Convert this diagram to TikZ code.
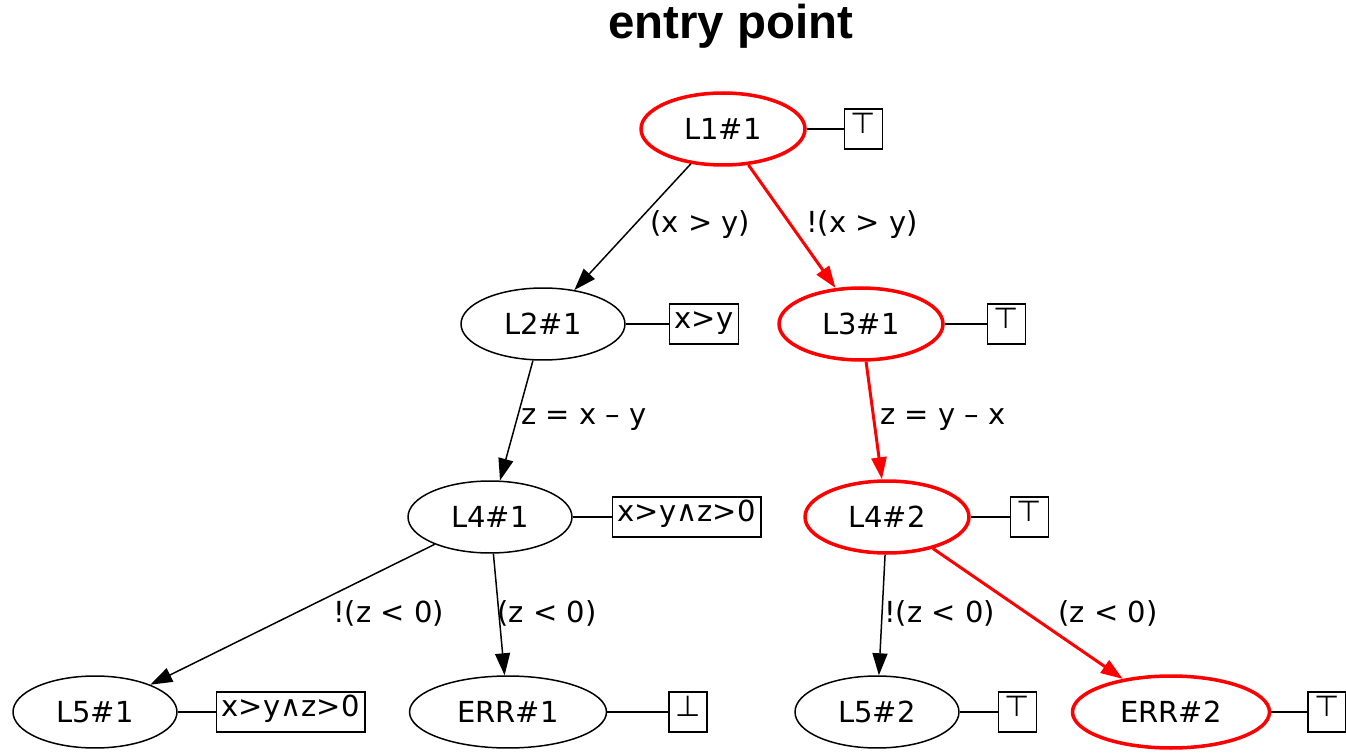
\documentclass[tikz,border=0pt]{standalone}
\usepackage{fontspec}
\setmainfont{DejaVu Sans}
\newfontfamily\headfont{Liberation Sans}
\usetikzlibrary{shapes.geometric,arrows.meta,positioning}

\tikzset{
  loc/.style={ellipse, draw, line width=0.85pt, minimum width=3.28cm, minimum height=1.44cm, inner sep=0pt},
  errloc/.style={loc, minimum width=3.94cm},
  hot/.style={draw=red, line width=2pt},
  inv/.style={draw, rectangle, line width=0.85pt, minimum width=0.76cm, minimum height=0.8cm,
    inner xsep=3pt, inner ysep=0pt, text height=0.75em, text depth=0.2em},
  lbl/.style={anchor=west, inner sep=0pt, text height=0.75em, text depth=0.2em},
  flow/.style={-{Triangle[length=0.44cm,width=0.3cm]}, line width=0.85pt},
  redflow/.style={-{Triangle[length=0.44cm,width=0.3cm]}, red, line width=1.7pt},
  tie/.style={line width=0.85pt},
}

\begin{document}
\begin{tikzpicture}[x=0.02cm, y=-0.02cm, font=\fontsize{16.5}{19}\selectfont]
  \useasboundingbox (0,0) rectangle (1346,753);

  % title
  \node[anchor=base west, inner sep=0pt, font=\headfont\bfseries\fontsize{27}{30}\selectfont] (title) at (608,39) {entry point};

  % locations of the unrolled program
  \node[loc, hot] (l1) at (723,129) {L1\#1};
  \node[loc] (l2) at (543,324) {L2\#1};
  \node[loc, hot] (l3) at (861,324) {L3\#1};
  \node[loc] (l4a) at (490,517) {L4\#1};
  \node[loc, hot] (l4b) at (887,517) {L4\#2};
  \node[loc] (l5a) at (95,712) {L5\#1};
  \node[errloc] (erra) at (508,712) {ERR\#1};
  \node[loc] (l5b) at (877,712) {L5\#2};
  \node[errloc, hot] (errb) at (1171,712) {ERR\#2};

  % invariants attached to each location
  \node[inv, right=0.74cm of l1] (i1) {⊤};
  \node[inv, right=0.86cm of l2] (i2) {x>y};
  \node[inv, right=0.84cm of l3] (i3) {⊤};
  \node[inv, right=0.78cm of l4a] (i4a) {x>y∧z>0};
  \node[inv, right=0.78cm of l4b] (i4b) {⊤};
  \node[inv, right=0.76cm of l5a] (i5a) {x>y∧z>0};
  \node[inv, right=1.22cm of erra] (ierra) {⊥};
  \node[inv, right=0.76cm of l5b] (i5b) {⊤};
  \node[inv, right=0.72cm of errb] (ierrb) {⊤};

  \foreach \a/\b in {l1/i1, l2/i2, l3/i3, l4a/i4a, l4b/i4b, l5a/i5a, erra/ierra, l5b/i5b, errb/ierrb}
    \draw[tie] (\a) -- (\b);

  % transitions
  \draw[flow] (l1) -- (l2);
  \draw[redflow] (l1) -- (l3);
  \draw[flow] (l2) -- (l4a);
  \draw[redflow] (l3) -- (l4b);
  \draw[flow] (l4a) -- (l5a);
  \draw[flow] (l4a) -- (erra);
  \draw[flow] (l4b) -- (l5b);
  \draw[redflow] (l4b) -- (errb);

  % edge labels
  \node[lbl] (e12) at (650,228) {(x > y)};
  \node[lbl] (e13) at (806,228) {!(x > y)};
  \node[lbl] (e24) at (521,420) {z = x – y};
  \node[lbl] (e34) at (880,420) {z = y – x};
  \node[lbl] (e45a) at (333,618) {!(z < 0)};
  \node[lbl] (e4ea) at (497,618) {(z < 0)};
  \node[lbl] (e45b) at (884,618) {!(z < 0)};
  \node[lbl] (e4eb) at (1058,618) {(z < 0)};
\end{tikzpicture}
\end{document}
